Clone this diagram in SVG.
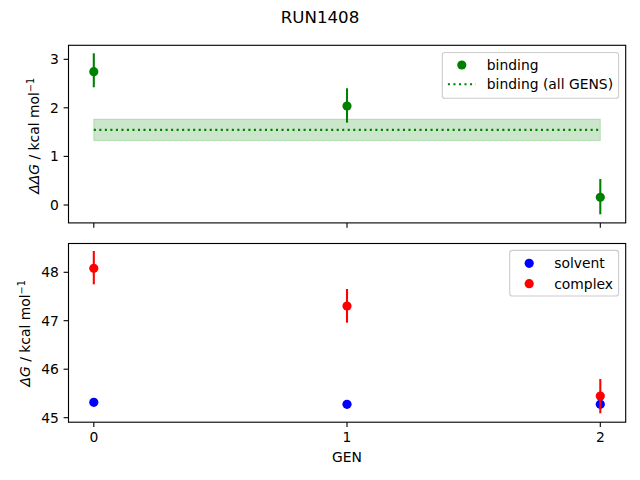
<svg xmlns="http://www.w3.org/2000/svg" width="640" height="480" viewBox="0 0 640 480">
<style>
text{font-family:"DejaVu Sans","Liberation Sans",sans-serif;font-size:13.89px;fill:#000}
.spine{fill:none;stroke:#000;stroke-width:1.11}
.tick{stroke:#000;stroke-width:1.11}
.yt{text-anchor:end}
.xt{text-anchor:middle}
.leg{fill:#fff;fill-opacity:0.8;stroke:#cccccc;stroke-width:1.11}
.eg{stroke:#008000;stroke-width:2.08}
.er{stroke:#ff0000;stroke-width:2.08}
.eb{stroke:#0000ff;stroke-width:2.08}
circle{r:4.6}
</style>
<rect width="640" height="480" fill="#fff"/>
<text id="title" x="320" y="22.5" text-anchor="middle" style="font-size:16.67px">RUN1408</text>

<g id="top-axes">
  <rect x="93.8" y="119.2" width="506.5" height="21.3" fill="#008000" fill-opacity="0.2" stroke="#008000" stroke-opacity="0.2" stroke-width="1"/>
  <line x1="93.8" y1="129.9" x2="600.3" y2="129.9" stroke="#008000" stroke-width="2.08" stroke-dasharray="2.08 3.44"/>
  <g id="binding-points">
    <line class="eg" x1="93.8" y1="53.3" x2="93.8" y2="87.3"/>
    <circle cx="93.8" cy="71.7" r="4.6" fill="#008000"/>
    <line class="eg" x1="347" y1="88.3" x2="347" y2="122.7"/>
    <circle cx="347" cy="106" r="4.6" fill="#008000"/>
    <line class="eg" x1="600.3" y1="179" x2="600.3" y2="214.3"/>
    <circle cx="600.3" cy="197.3" r="4.6" fill="#008000"/>
  </g>
  <rect class="spine" x="68.5" y="45.3" width="557.2" height="177.6"/>
  <g id="top-yticks">
    <line class="tick" x1="63.6" y1="59.3" x2="68.5" y2="59.3"/>
    <line class="tick" x1="63.6" y1="107.8" x2="68.5" y2="107.8"/>
    <line class="tick" x1="63.6" y1="156.4" x2="68.5" y2="156.4"/>
    <line class="tick" x1="63.6" y1="205" x2="68.5" y2="205"/>
    <text class="yt" x="58.8" y="64.3">3</text>
    <text class="yt" x="58.8" y="112.8">2</text>
    <text class="yt" x="58.8" y="161.4">1</text>
    <text class="yt" x="58.8" y="210">0</text>
  </g>
  <g id="top-xticks">
    <line class="tick" x1="93.8" y1="222.9" x2="93.8" y2="227.8"/>
    <line class="tick" x1="347" y1="222.9" x2="347" y2="227.8"/>
    <line class="tick" x1="600.3" y1="222.9" x2="600.3" y2="227.8"/>
  </g>
  <text id="top-ylabel" transform="translate(39,135.8) rotate(-90)" text-anchor="middle"><tspan font-style="italic">ΔΔG</tspan> / kcal mol<tspan dy="-5.5" style="font-size:9.7px">−1</tspan></text>
  <g id="top-legend">
    <rect class="leg" x="442.3" y="52.5" width="176.3" height="45.8" rx="2.8"/>
    <circle cx="461.8" cy="65" r="4.6" fill="#008000"/>
    <text x="486.8" y="70">binding</text>
    <line x1="447.9" y1="84.3" x2="475.7" y2="84.3" stroke="#008000" stroke-width="2.08" stroke-dasharray="2.08 3.44"/>
    <text x="486.8" y="89.3">binding (all GENS)</text>
  </g>
</g>

<g id="bottom-axes">
  <g id="solvent-points">
    <circle cx="93.8" cy="402.3" r="4.6" fill="#0000ff"/>
    <circle cx="347" cy="404.3" r="4.6" fill="#0000ff"/>
    <circle cx="600.3" cy="404.3" r="4.6" fill="#0000ff"/>
  </g>
  <g id="complex-points">
    <line class="er" x1="93.8" y1="251" x2="93.8" y2="284.3"/>
    <circle cx="93.8" cy="268.3" r="4.6" fill="#ff0000"/>
    <line class="er" x1="347" y1="289" x2="347" y2="322.7"/>
    <circle cx="347" cy="306" r="4.6" fill="#ff0000"/>
    <line class="er" x1="600.3" y1="379" x2="600.3" y2="413.3"/>
    <circle cx="600.3" cy="396" r="4.6" fill="#ff0000"/>
  </g>
  <rect class="spine" x="68.5" y="243.5" width="557.2" height="178.7"/>
  <g id="bottom-yticks">
    <line class="tick" x1="63.6" y1="272.3" x2="68.5" y2="272.3"/>
    <line class="tick" x1="63.6" y1="320.7" x2="68.5" y2="320.7"/>
    <line class="tick" x1="63.6" y1="369.2" x2="68.5" y2="369.2"/>
    <line class="tick" x1="63.6" y1="417.7" x2="68.5" y2="417.7"/>
    <text class="yt" x="58.8" y="277.3">48</text>
    <text class="yt" x="58.8" y="325.7">47</text>
    <text class="yt" x="58.8" y="374.2">46</text>
    <text class="yt" x="58.8" y="422.7">45</text>
  </g>
  <g id="bottom-xticks">
    <line class="tick" x1="93.8" y1="422.2" x2="93.8" y2="427.1"/>
    <line class="tick" x1="347" y1="422.2" x2="347" y2="427.1"/>
    <line class="tick" x1="600.3" y1="422.2" x2="600.3" y2="427.1"/>
    <text class="xt" x="93.8" y="442">0</text>
    <text class="xt" x="347" y="442">1</text>
    <text class="xt" x="600.3" y="442">2</text>
  </g>
  <text id="xlabel" x="347" y="462" text-anchor="middle">GEN</text>
  <text id="bottom-ylabel" transform="translate(30,333.3) rotate(-90)" text-anchor="middle"><tspan font-style="italic">ΔG</tspan> / kcal mol<tspan dy="-5.5" style="font-size:9.7px">−1</tspan></text>
  <g id="bottom-legend">
    <rect class="leg" x="509.7" y="250.4" width="108.9" height="45.6" rx="2.8"/>
    <circle cx="529.2" cy="263.3" r="4.6" fill="#0000ff"/>
    <text x="554.2" y="268.3">solvent</text>
    <circle cx="529.2" cy="283.7" r="4.6" fill="#ff0000"/>
    <text x="554.2" y="288.7">complex</text>
  </g>
</g>
</svg>
